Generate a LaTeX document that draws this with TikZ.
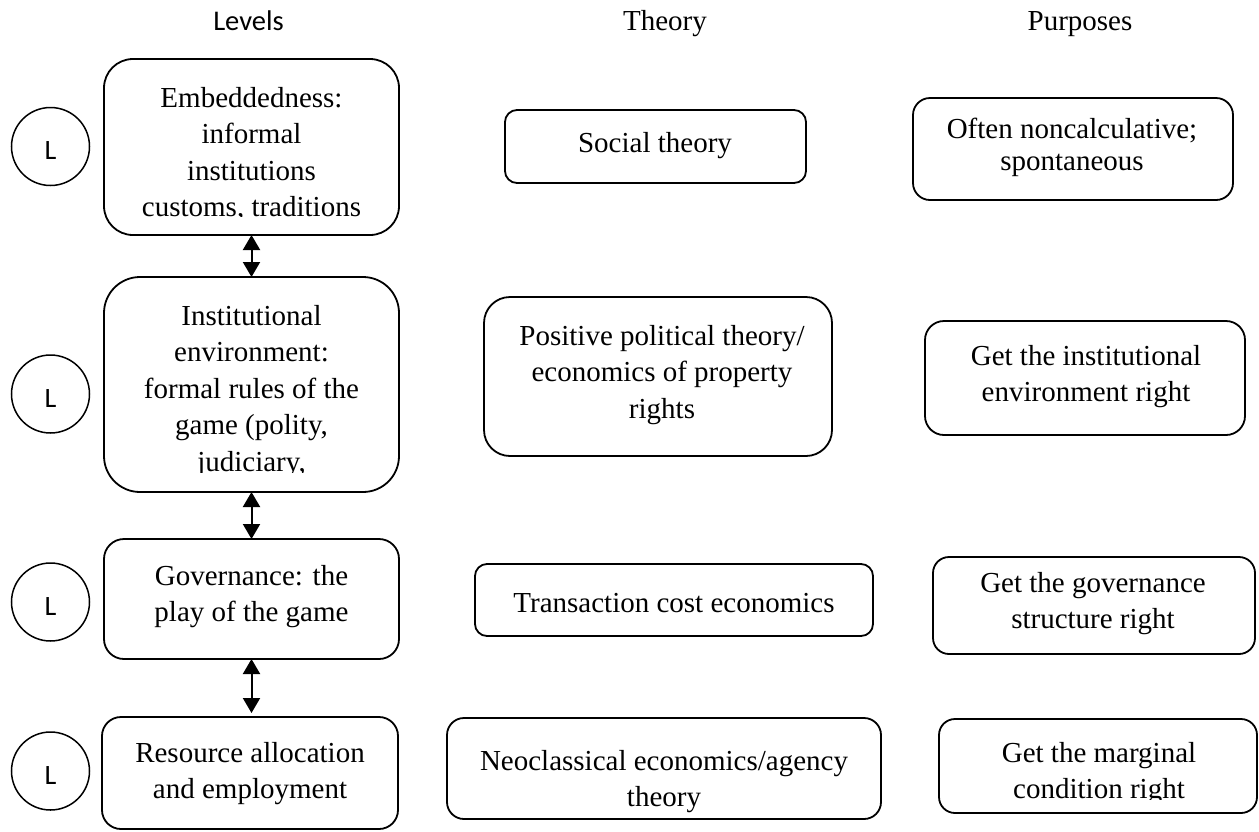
\documentclass[tikz,border=0pt]{standalone}
\usepackage{fontspec}
\setmainfont{Liberation Serif}
\newfontfamily\calfont{Carlito}
\usetikzlibrary{arrows.meta}
\tikzset{
  box/.style={draw, line width=1.8pt, inner sep=0pt, outer sep=0pt},
  txt/.style={anchor=north, inner sep=0pt, align=center, font=\fontsize{29}{36.5}\selectfont},
  head/.style={anchor=base, inner sep=0pt, font=\fontsize{29}{34}\selectfont},
  lev/.style={draw, circle, line width=1.5pt, minimum size=78pt, inner sep=0pt,
    font=\calfont\fontsize{28}{32}\selectfont, text height=26pt, text depth=0pt},
  dbl/.style={{Triangle[length=15pt,width=17pt]}-{Triangle[length=15pt,width=17pt]}, line width=2pt}
}
\begin{document}
\begin{tikzpicture}[x=1pt,y=-1pt]
\useasboundingbox (0,0) rectangle (1259,831);
% headers
\node[head, font=\calfont\fontsize{28.5}{34}\selectfont] (hlev) at (248.5,30) {Levels};
\node[head] (hth) at (665,30) {Theory};
\node[head] (hpu) at (1080,30) {Purposes};
% circles
\node[lev] (c1) at (50.5,146.5) {L};
\node[lev] (c2) at (50.5,394) {L};
\node[lev] (c3) at (50.5,602) {L};
\node[lev] (c4) at (50.5,771) {L};
% level boxes
\node[box, minimum width=295pt, minimum height=176pt, rounded corners=29pt] (l1) at (251.5,147) {};
\node[box, minimum width=295pt, minimum height=215pt, rounded corners=36pt] (l2) at (251.5,384.5) {};
\node[box, minimum width=295pt, minimum height=120pt, rounded corners=20pt] (l3) at (251.5,599) {};
\node[box, minimum width=296pt, minimum height=112pt, rounded corners=19pt] (l4) at (250,773) {};
\begin{scope}
\clip (104,59) rectangle (399,216);
\node[txt] (l1t) at (251.5,87) {Embeddedness:\\informal\\institutions\\customs, traditions};
\end{scope}
\begin{scope}
\clip (104,277) rectangle (399,472);
\node[txt] (l2t) at (251.5,305) {Institutional\\environment:\\formal rules of the\\game (polity,\\judiciary,};
\end{scope}
\node[txt] (l3t) at (251.5,565) {Governance: the\\play of the game};
\node[txt] (l4t) at (250,742) {Resource allocation\\and employment};
% arrows
\draw[dbl] (l1.south) -- (l2.north);
\draw[dbl] (l2.south) -- (l3.north);
\draw[dbl, shorten >=4pt] (l3.south) -- (l3.south |- l4.north);
% theory boxes
\node[box, minimum width=301pt, minimum height=73pt, rounded corners=12pt] (t1) at (655.5,146.5) {};
\node[box, minimum width=348pt, minimum height=159pt, rounded corners=26pt] (t2) at (658,376.5) {};
\node[box, minimum width=398pt, minimum height=72pt, rounded corners=12pt] (t3) at (674,600) {};
\node[box, minimum width=434pt, minimum height=101pt, rounded corners=17pt] (t4) at (664,768.5) {};
\node[txt] (t1t) at (655,132) {Social theory};
\node[txt] (t2t) at (662,325) {Positive political theory/\\economics of property\\rights};
\node[txt] (t3t) at (674,593) {Transaction cost economics};
\node[txt] (t4t) at (664,750) {Neoclassical economics/agency\\theory};
% purpose boxes
\node[box, minimum width=320pt, minimum height=102pt, rounded corners=17pt] (p1) at (1073,149) {};
\node[box, minimum width=320pt, minimum height=114pt, rounded corners=19pt] (p2) at (1085,378) {};
\node[box, minimum width=322pt, minimum height=97pt, rounded corners=16pt] (p3) at (1094,605.5) {};
\node[box, minimum width=318pt, minimum height=94pt, rounded corners=16pt] (p4) at (1098,766) {};
\node[txt, font=\fontsize{29}{32}\selectfont] (p1t) at (1072,118) {Often noncalculative;\\spontaneous};
\node[txt] (p2t) at (1086,345) {Get the institutional\\environment right};
\node[txt] (p3t) at (1093,572) {Get the governance\\structure right};
\begin{scope}
\clip (939,719) rectangle (1257,799);
\node[txt] (p4t) at (1099,742) {Get the marginal\\condition right};
\end{scope}
\end{tikzpicture}
\end{document}
